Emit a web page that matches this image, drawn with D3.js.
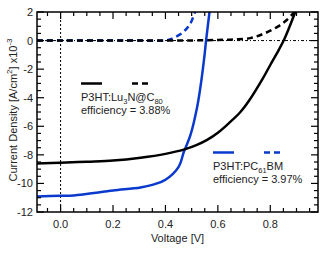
<!DOCTYPE html>
<html>
<head>
<meta charset="utf-8">
<script src="https://cdn.jsdelivr.net/npm/d3@7.9.0/dist/d3.min.js"></script>
<style>
  body { margin: 0; background: #fff; }
  text { font-family: "Liberation Sans", Arial, sans-serif; fill: #222; }
</style>
</head>
<body>
<div id="chart"></div>
<script>
// J-V curves, voltage [V] vs current density [A/cm2] x1e-3
const luLight = [
  [-0.09, -8.6], [0, -8.55], [0.1, -8.48], [0.2, -8.4], [0.305, -8.2], [0.4, -7.93],
  [0.476, -7.6], [0.52, -7.3], [0.559, -6.95], [0.6, -6.45], [0.641, -5.8],
  [0.686, -5.0], [0.72, -4.18], [0.77, -2.7], [0.8, -1.71], [0.825, -0.9],
  [0.851, 0], [0.873, 0.95], [0.895, 2.0]
];
const luDark = [
  [-0.09, 0], [0.3, 0], [0.5, 0.01], [0.6, 0.04], [0.66, 0.08], [0.724, 0.17],
  [0.78, 0.52], [0.83, 0.99], [0.864, 1.46], [0.889, 1.93], [0.9, 2.15]
];
const pcLight = [
  [-0.09, -10.91], [0, -10.87], [0.05, -10.84], [0.2, -10.5], [0.305, -10.28],
  [0.35, -10.1], [0.4, -9.74], [0.451, -8.82], [0.47, -7.8], [0.495, -6.64],
  [0.521, -4.65], [0.537, -2.8], [0.548, -1.2], [0.555, 0], [0.568, 2]
];
const pcDark = [
  [-0.09, 0], [0.3, 0], [0.4, 0.01], [0.419, 0.1], [0.44, 0.27], [0.463, 0.52],
  [0.48, 0.82], [0.495, 1.18], [0.514, 2.04]
];
const xTicks = [0, 0.2, 0.4, 0.6, 0.8];
const yTicks = [2, 0, -2, -4, -6, -8, -10, -12];

const width = 325, height = 261;
const margin = { top: 12, right: 7, bottom: 49, left: 37 };
const blue = "#0a3acd";

const svg = d3.select("#chart").append("svg")
  .attr("width", width).attr("height", height);

const x = d3.scaleLinear().domain([-0.09, 0.982]).range([margin.left, width - margin.right]);
const y = d3.scaleLinear().domain([-12, 2]).range([height - margin.bottom, margin.top]);

svg.append("clipPath").attr("id", "clip").append("rect")
  .attr("x", margin.left).attr("y", margin.top)
  .attr("width", width - margin.left - margin.right)
  .attr("height", height - margin.top - margin.bottom);

// zero reference lines
svg.append("line")
  .attr("x1", x(0)).attr("x2", x(0)).attr("y1", y(2)).attr("y2", y(-12))
  .attr("stroke", "#000").attr("stroke-width", 1).attr("stroke-dasharray", "2,2");
svg.append("line")
  .attr("x1", x(-0.09)).attr("x2", x(0.982)).attr("y1", y(0)).attr("y2", y(0))
  .attr("stroke", "#000").attr("stroke-width", 1).attr("stroke-dasharray", "3,2,1,2");

// curves
const line = d3.line().x(d => x(d[0])).y(d => y(d[1])).curve(d3.curveCatmullRom.alpha(0.5));
const plot = svg.append("g").attr("clip-path", "url(#clip)");
const series = [
  { data: pcDark, color: blue, dash: "6,4" },
  { data: luDark, color: "#000", dash: "6,4" },
  { data: pcLight, color: blue, dash: null },
  { data: luLight, color: "#000", dash: null }
];
plot.selectAll("path").data(series).join("path")
  .attr("d", d => line(d.data))
  .attr("fill", "none")
  .attr("stroke", d => d.color)
  .attr("stroke-width", 2.5)
  .attr("stroke-dasharray", d => d.dash);

// frame with inward ticks on all sides
const x0 = margin.left, x1 = width - margin.right, y0 = margin.top, y1 = height - margin.bottom;
const xMinor = d3.range(-0.05, 0.98, 0.05).map(v => Math.round(v * 100) / 100);
const yMinor = d3.range(-12, 2.01, 0.5);
const tk = svg.append("g").attr("stroke", "#000").attr("stroke-width", 1.2);
xMinor.forEach(v => {
  const major = xTicks.some(t => Math.abs(t - v) < 1e-6);
  const L = major ? 7 : 4;
  tk.append("line").attr("x1", x(v)).attr("x2", x(v)).attr("y1", y1).attr("y2", y1 - L);
  tk.append("line").attr("x1", x(v)).attr("x2", x(v)).attr("y1", y0).attr("y2", y0 + L);
});
yMinor.forEach(v => {
  const major = yTicks.includes(v);
  const L = major ? 7 : 4;
  tk.append("line").attr("y1", y(v)).attr("y2", y(v)).attr("x1", x0).attr("x2", x0 + L);
  tk.append("line").attr("y1", y(v)).attr("y2", y(v)).attr("x1", x1).attr("x2", x1 - L);
});
svg.append("rect").attr("x", x0).attr("y", y0).attr("width", x1 - x0).attr("height", y1 - y0)
  .attr("fill", "none").attr("stroke", "#000").attr("stroke-width", 1.5);

// tick labels
svg.append("g").selectAll("text").data(xTicks).join("text")
  .attr("x", d => x(d)).attr("y", y1 + 16)
  .attr("text-anchor", "middle").attr("font-size", 11)
  .text(d => d.toFixed(1));
svg.append("g").selectAll("text").data(yTicks).join("text")
  .attr("x", x0 - 4).attr("y", d => y(d) + 4)
  .attr("text-anchor", "end").attr("font-size", 11)
  .text(d => String(d));

// axis titles
svg.append("text").attr("x", (x0 + x1) / 2).attr("y", 242)
  .attr("text-anchor", "middle").attr("font-size", 11).text("Voltage [V]");
const yt = svg.append("text")
  .attr("transform", `translate(17,110) rotate(-90)`)
  .attr("text-anchor", "middle").attr("font-size", 11);
yt.append("tspan").text("Current Density [A/cm");
yt.append("tspan").attr("dy", -5).attr("font-size", 8).text("2");
yt.append("tspan").attr("dy", 5).text("] x10");
yt.append("tspan").attr("dy", -5).attr("font-size", 8).text("-3");

// legends
function legend(lx, ly, color, parts, eff) {
  const g = svg.append("g");
  g.append("line").attr("x1", lx).attr("x2", lx + 21).attr("y1", ly).attr("y2", ly)
    .attr("stroke", color).attr("stroke-width", 2.5);
  g.append("line").attr("x1", lx + 51).attr("x2", lx + 67).attr("y1", ly).attr("y2", ly)
    .attr("stroke", color).attr("stroke-width", 2.5).attr("stroke-dasharray", "6,4");
  const t = g.append("text").attr("x", lx).attr("y", ly + 17.5).attr("font-size", 11);
  let shift = 0;
  parts.forEach(([s, sub]) => {
    t.append("tspan").attr("dy", -shift).text(s);
    shift = 0;
    if (sub) {
      t.append("tspan").attr("dy", 2.5).attr("font-size", 7.5).text(sub);
      shift = 2.5;
    }
  });
  g.append("text").attr("x", lx).attr("y", ly + 30.5).attr("font-size", 11).text(eff);
}
legend(81, 83.5, "#000", [["P3HT:Lu", "3"], ["N@C", "80"]], "efficiency = 3.88%");
legend(213, 152.5, blue, [["P3HT:PC", "61"], ["BM", null]], "efficiency = 3.97%");
</script>
</body>
</html>
